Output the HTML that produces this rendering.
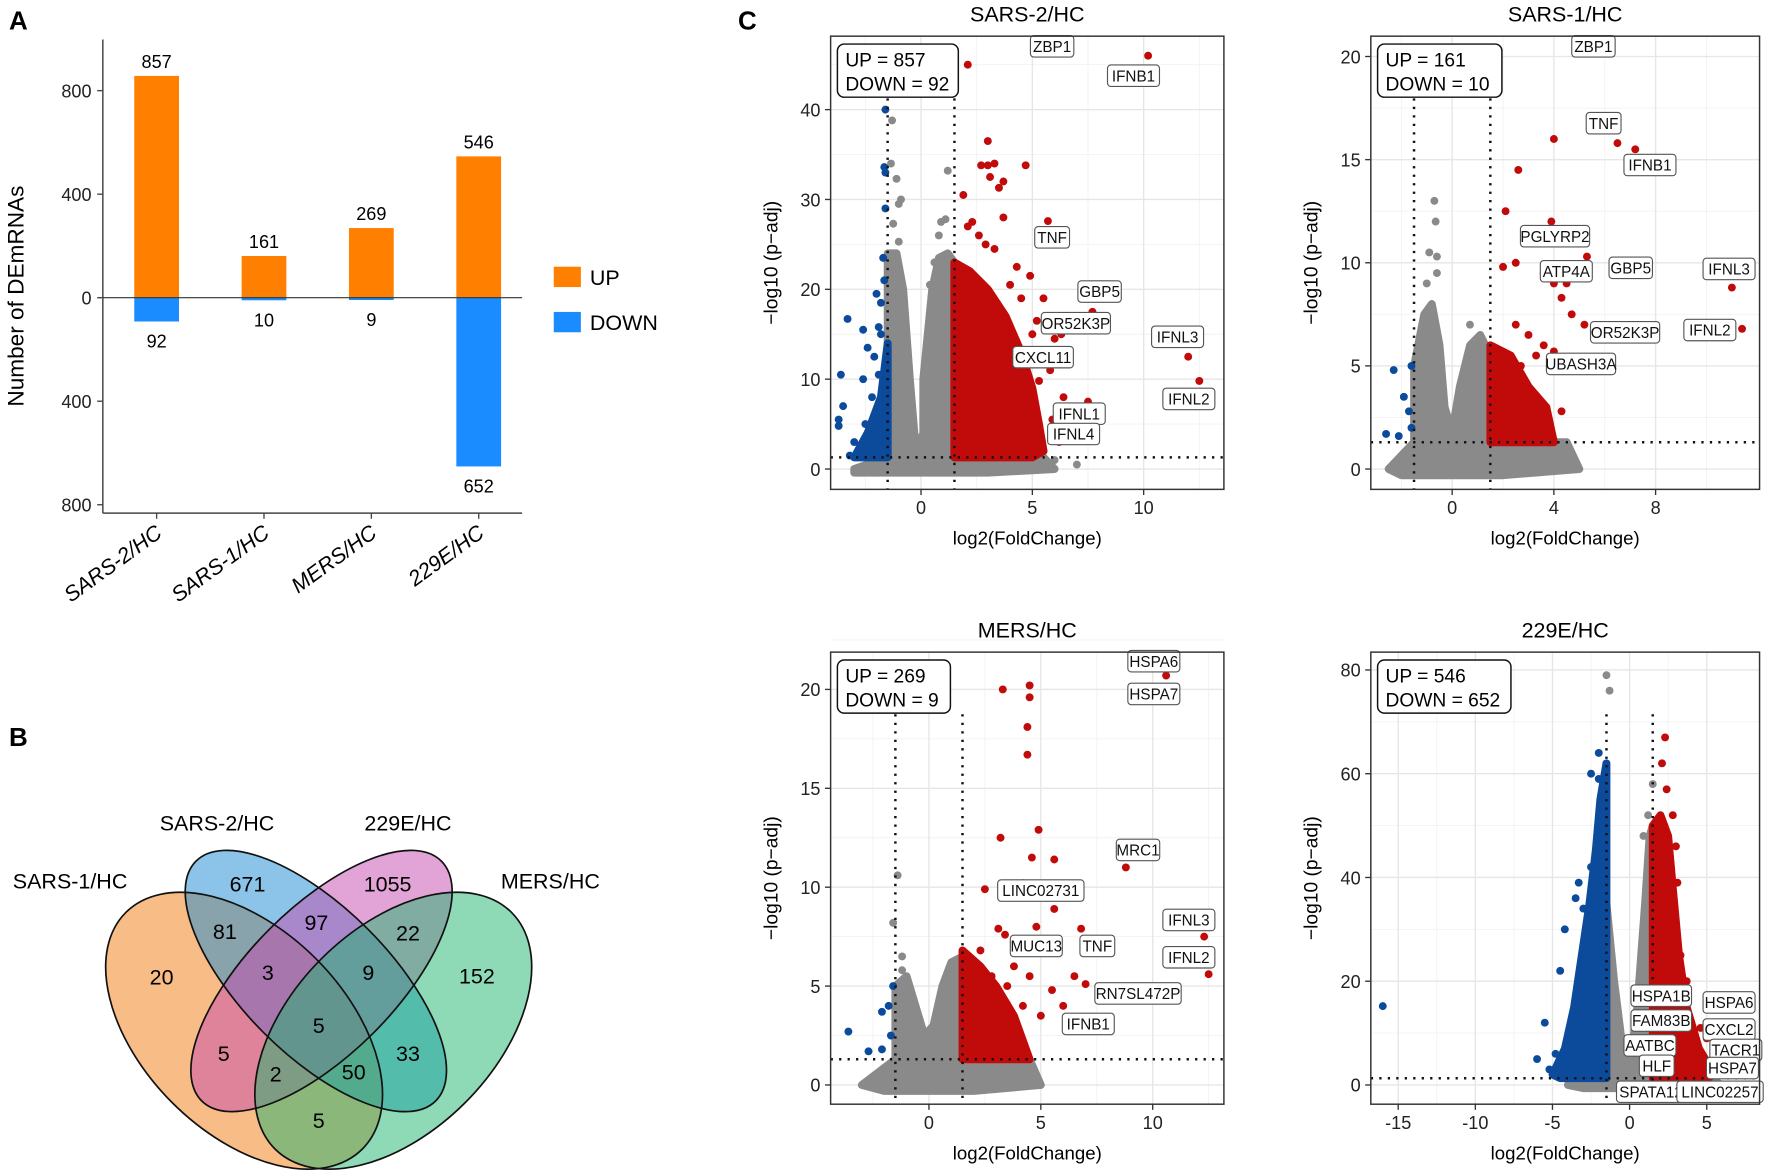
<!DOCTYPE html>
<html><head><meta charset="utf-8"><style>
html,body{margin:0;padding:0;background:#fff;}
svg{display:block;font-family:"Liberation Sans",Arial,sans-serif;}
</style></head><body>
<svg id="fig" width="1772" height="1172" viewBox="0 0 1568 1037" preserveAspectRatio="none" xmlns="http://www.w3.org/2000/svg"></svg>
<script>
// ---------- Panel A data ----------
const barCats = ["SARS-2/HC","SARS-1/HC","MERS/HC","229E/HC"];
const upVals = [857,161,269,546];
const downVals = [92,10,9,652];
const barTicks = [800,400,0,-400,-800];
const barTickLabels = ["800","400","0","400","800"];

// ---------- Venn data ----------
const vennSets = ["SARS-1/HC","SARS-2/HC","229E/HC","MERS/HC"];
const vennCounts = [671,1055,81,97,22,20,3,9,152,5,5,33,2,50,5];

// ---------- Volcano data ([log2FC, -log10 padj]) ----------
const s2Stats = [857,92];
const s2GreyEnv = [[-3,0],[-1.5,1.3],[-1.5,24],[-1.1,24],[-0.8,20],[-0.5,10],[-0.3,4],[-0.1,2],[0.1,4],[0.1,10],[0.5,20],[0.8,23.5],[1.2,24],[1.5,23],[1.5,1.3],[5.5,1.3],[6,0],[3,-0.4],[-3,-0.4]];
const s2GreyPts = [[-1.3,38.8],[-1.35,34],[-1.1,32.3],[-0.9,30],[-1.0,29.5],[-1.25,27.3],[1.2,33.2],[0.8,26],[1.1,27.8],[0.9,27.5],[0.6,23],[0.9,22.9],[-1.0,25.3],[6,1],[7,0.5],[0.6,21],[0.4,20.5]];
const s2RedEnv = [[1.5,1.3],[1.5,23],[2.2,22],[3,20],[3.8,17],[4.5,13],[5,9],[5.3,5],[5.5,2],[5,1.3]];
const s2RedPts = [[1.9,30.5],[2.1,27],[2.3,27.5],[3,36.5],[2.7,33.8],[3.0,33.8],[3.3,34],[3.1,32.5],[3.7,32],[3.5,31.3],[4.7,33.8],[3.7,28],[5.7,27.6],[4.3,22.5],[4.9,21.5],[5.5,19],[4,20.5],[6,14.5],[6.3,15],[5,15],[6.8,6.8],[7.5,7.5],[12,12.5],[12.5,9.8],[10.2,46],[2.1,45],[4.6,10],[5.3,9.8],[6.2,3],[7.2,4],[7.7,17.5],[5.8,11],[6.4,8],[5.9,5.5],[6.5,12],[2.9,25],[2.6,26],[3.3,24.5],[4.5,19],[5.2,16.5]];
const s2BlueEnv = [[-1.5,1.3],[-1.5,14],[-1.8,8],[-2.4,4],[-3,1.3]];
const s2BluePts = [[-1.6,40],[-1.65,33.6],[-1.6,33],[-1.6,29],[-1.7,23.5],[-1.65,21],[-2,19.5],[-1.8,18.5],[-3.3,16.7],[-2.6,15.5],[-1.9,15.8],[-1.8,15],[-2.4,13.5],[-2.1,12.5],[-3.6,10.5],[-2.6,10],[-1.9,10.5],[-2.2,8],[-3.5,7],[-3.7,5.5],[-3.7,4.8],[-2.5,5],[-2,6],[-3,3],[-2.2,2],[-1.8,3],[-3.2,1.5],[-2.6,1.5]];

const s1Stats = [161,10];
const s1GreyEnv = [[-2.5,0],[-1.5,1.3],[-1.5,5],[-1.1,7.5],[-0.8,8],[-0.5,6],[-0.3,3],[0,1.8],[0.3,4],[0.7,6],[1.1,6.5],[1.5,5.5],[1.5,1.3],[4.5,1.3],[5,0],[2,-0.3],[-2,-0.3]];
const s1GreyPts = [[-0.7,13],[-0.65,12],[-0.9,10.5],[-0.6,10.3],[-1.0,9],[-0.6,9.5],[0.7,7]];
const s1RedEnv = [[1.5,1.3],[1.5,6],[2.3,5.5],[3,4],[3.7,3],[4,1.3]];
const s1RedPts = [[4.0,16],[6.5,15.8],[7.2,15.5],[2.6,14.5],[2.1,12.5],[3.9,12],[4.2,11],[2.5,10],[2.0,9.8],[3.6,9.5],[4.0,9],[4.5,9],[5.3,10.3],[4.3,8.3],[4.7,7.5],[5.2,7],[11,8.8],[11.4,6.8],[3.6,6],[4,5.7],[3.0,6.5],[2.5,7],[2.7,5],[3.3,5.5],[3.7,3],[4.3,2.8],[2.2,3.5],[2.9,4.2]];
const s1BluePts = [[-1.6,5],[-2.3,4.8],[-1.9,3.5],[-1.7,2.8],[-2.6,1.7],[-2.1,1.6],[-1.6,2]];

const meStats = [269,9];
const meGreyEnv = [[-3,0],[-1.5,1.3],[-1.5,5],[-1.0,5.5],[-0.6,4],[-0.2,2.5],[0.2,3],[0.6,5],[1.0,6.2],[1.5,6.5],[1.5,1.3],[4.5,1.3],[5,0],[2,-0.3],[-2,-0.3]];
const meGreyPts = [[-1.4,10.6],[-1.6,8.2],[-1.2,6.5],[1.0,5.5],[-1.2,5.8]];
const meRedEnv = [[1.5,1.3],[1.5,6.8],[2.3,6],[3,5],[3.8,3.5],[4.5,1.3]];
const meRedPts = [[3.3,20],[4.5,20.2],[4.5,19.6],[4.4,18.1],[4.4,16.7],[10.6,20.7],[3.2,12.5],[4.9,12.9],[4.6,11.5],[5.6,11.4],[8.8,11],[2.5,9.9],[4.2,10.2],[5.6,8.9],[6.8,7.9],[4.8,8],[3.1,7.9],[3.4,7.6],[12.3,7.5],[12.5,5.6],[7,5.1],[3.8,6],[4.5,5.5],[2.3,6.8],[2.8,5.5],[3.5,5],[4.2,4],[5.5,4.8],[6,4],[6.5,5.5],[5,3.5],[3,3],[2.5,2],[4,2]];
const meBluePts = [[-1.6,5],[-1.8,4],[-2.1,3.7],[-3.6,2.7],[-2.7,1.7],[-2.1,1.8],[-1.7,2.5]];

const e2Stats = [546,652];
const e2GreyEnv = [[-4,0],[-1.5,1.3],[-1.5,35],[-1.0,20],[-0.5,8],[0,3],[0.5,15],[1.0,35],[1.3,48],[1.5,50],[1.5,1.3],[5,1.3],[6,0],[0,-0.6],[-3,-0.6]];
const e2GreyPts = [[-1.5,79],[-1.3,76],[1.2,52],[0.9,48],[1.5,58]];
const e2BlueEnv = [[-1.5,1.3],[-1.5,62],[-1.9,55],[-2.2,45],[-2.6,35],[-3.1,25],[-3.6,15],[-4.2,7],[-5,2],[-4.5,1.3]];
const e2BluePts = [[-16,15.2],[-2.0,64],[-2.5,60],[-2.0,59],[-1.8,50],[-3.3,39],[-3.5,36],[-2.5,42],[-4.2,30],[-4.5,22],[-5.5,12],[-6,5],[-5.2,3],[-4.8,6],[-3,34]];
const e2RedEnv = [[1.5,1.3],[1.5,50],[2,52],[2.5,48],[2.8,38],[3.2,25],[3.7,15],[4.5,7],[5.5,2],[5,1.3]];
const e2RedPts = [[2.3,67],[2.4,57],[2.8,52],[2.1,62],[2.6,44],[3,46],[3.1,39],[3.3,25],[3.7,20],[4,12],[4.6,11],[5,9],[3.5,5],[4.2,3],[4.8,2]];

const NS = "http://www.w3.org/2000/svg";
const svg = document.getElementById('fig');
function el(tag, attrs, parent){
  const e = document.createElementNS(NS, tag);
  for (const k in attrs) e.setAttribute(k, attrs[k]);
  (parent||svg).appendChild(e);
  return e;
}
function txt(s, attrs, parent){ const t = el('text', attrs, parent); t.textContent = s; return t; }

const RED="#c10a0a", BLUE="#0c4a9c", GREY="#8a8a8a";

// ---------- panel letters ----------
[["A",8,26],["B",8,660],["C",653,26]].forEach(l=>{
  const t = txt(l[0], {x:l[1], y:l[2], 'font-size':23, 'font-weight':'bold'});
  
  
});

// ---------- Panel A: bar chart ----------
(function(){
  const g = el('g', {});
  
  
  const y0 = 263.4, k = 91.6/400;
  const yS = v => y0 - v*k;
  const xS = i => 138.6 + i*95;
  const axL = 91, axR = 462, axB = 454;
  const ya = el('line', {x1:axL, y1:35, x2:axL, y2:axB, stroke:'#444', 'stroke-width':1.3}, g);
  
  
  const xa = el('line', {x1:axL, y1:axB, x2:axR, y2:axB, stroke:'#444', 'stroke-width':1.3}, g);
  
  
  barTicks.forEach((v,i)=>{
    el('line', {x1:axL-5, y1:yS(v), x2:axL, y2:yS(v), stroke:'#444', 'stroke-width':1.2}, g);
    const t = txt(barTickLabels[i], {x:axL-10, y:yS(v)+6, 'font-size':16, 'text-anchor':'end', fill:'#222'}, g);
    
    
  });
  const yt = txt("Number of DEmRNAs", {x:0, y:0, 'font-size':20, 'text-anchor':'middle', transform:'translate(21,262) rotate(-90)'}, g);
  
  
  barCats.forEach((c,i)=>{
    const x = xS(i);
    const bu = el('rect', {x:x-19.8, y:yS(upVals[i]), width:39.6, height:upVals[i]*k, fill:'#ff8000'}, g);
    
    
    const bd = el('rect', {x:x-19.8, y:y0, width:39.6, height:Math.max(downVals[i]*k,1.5), fill:'#1a8cff'}, g);
    
    
    const lu = txt(String(upVals[i]), {x:x, y:yS(upVals[i])-7, 'font-size':16, 'text-anchor':'middle'}, g);
    
    
    const ld = txt(String(downVals[i]), {x:x, y:yS(-downVals[i])+23, 'font-size':16, 'text-anchor':'middle'}, g);
    
    
    el('line', {x1:x, y1:axB, x2:x, y2:axB+5, stroke:'#444', 'stroke-width':1.2}, g);
    const xl = txt(c, {x:0, y:0, 'font-size':19, 'font-style':'italic', 'text-anchor':'end', transform:'translate('+(x+6)+',474) rotate(-36)'}, g);
    
    
  });
  const zl = el('line', {x1:axL, y1:y0, x2:axR, y2:y0, stroke:'#333', 'stroke-width':1}, g);
  
  
  const lg = el('g', {}, g);
  
  
  el('rect', {x:490, y:236, width:24, height:18, fill:'#ff8000'}, lg);
  const l1 = txt("UP", {x:522, y:252, 'font-size':19}, lg);
  
  
  el('rect', {x:490, y:276, width:24, height:18, fill:'#1a8cff'}, lg);
  const l2 = txt("DOWN", {x:522, y:292, 'font-size':19}, lg);
  
  
})();

// ---------- Panel B: Venn ----------
(function(){
  const g = el('g', {});
  
  
  const ells = [
    {cx:216, cy:912, rx:148, ry:90, rot:45, fill:'#f1790d'},
    {cx:279.5, cy:868, rx:150, ry:65, rot:45, fill:'#1789d1'},
    {cx:284.5, cy:868, rx:150, ry:65, rot:-45, fill:'#c549ad'},
    {cx:348, cy:912, rx:148, ry:90, rot:-45, fill:'#1db36d'}
  ];
  ells.forEach((e,i)=>{
    const s = el('ellipse', {cx:e.cx, cy:e.cy, rx:e.rx, ry:e.ry, fill:e.fill, 'fill-opacity':0.5, transform:'rotate('+e.rot+' '+e.cx+' '+e.cy+')'}, g);
    
    
  });
  ells.forEach(e=>{
    el('ellipse', {cx:e.cx, cy:e.cy, rx:e.rx, ry:e.ry, fill:'none', stroke:'#111', 'stroke-width':1.5, transform:'rotate('+e.rot+' '+e.cx+' '+e.cy+')'}, g);
  });
  const setPos = [[62,786],[192,735],[361,735],[487,786]];
  vennSets.forEach((s,i)=>{
    const t = txt(s, {x:setPos[i][0], y:setPos[i][1], 'font-size':19, 'text-anchor':'middle'}, g);
    
    
  });
  const cntPos = [[219,782],[343,782],[199,824],[280,816],[361,825],[143,864],[237,860],[326,860],[422,863],[282,907],[198,932],[361,932],[244,950],[313,948],[282,991]];
  vennCounts.forEach((c,i)=>{
    const t = txt(String(c), {x:cntPos[i][0], y:cntPos[i][1]+7, 'font-size':19, 'text-anchor':'middle'}, g);
    
    
  });
})();

// ---------- Panel C: volcano plots ----------
function volcano(cfg){
  const g = el('g', {});
  
  
  const sx = v => cfg.x0 + v*cfg.xs, sy = v => cfg.y0 - v*cfg.ys;
  const clip = el('clipPath', {id:'clip-'+cfg.name}, g);
  el('rect', {x:cfg.L, y:cfg.T, width:cfg.R-cfg.L, height:cfg.B-cfg.T}, clip);
  el('rect', {x:cfg.L, y:cfg.T, width:cfg.R-cfg.L, height:cfg.B-cfg.T, fill:'#fff'}, g);
  cfg.minX.forEach(v=>el('line',{x1:sx(v),y1:cfg.T,x2:sx(v),y2:cfg.B,stroke:'#f2f2f2','stroke-width':0.8},g));
  cfg.minY.forEach(v=>el('line',{x1:cfg.L,y1:sy(v),x2:cfg.R,y2:sy(v),stroke:'#f2f2f2','stroke-width':0.8},g));
  cfg.tx.forEach(v=>el('line',{x1:sx(v),y1:cfg.T,x2:sx(v),y2:cfg.B,stroke:'#e6e6e6','stroke-width':1.2},g));
  cfg.ty.forEach(v=>el('line',{x1:cfg.L,y1:sy(v),x2:cfg.R,y2:sy(v),stroke:'#e6e6e6','stroke-width':1.2},g));
  const pg = el('g', {'clip-path':'url(#clip-'+cfg.name+')'}, g);
  function env(arr, col, nm){
    if(!arr) return;
    const d = arr.map((p,i)=>(i?'L':'M')+sx(p[0]).toFixed(1)+' '+sy(p[1]).toFixed(1)).join(' ')+' Z';
    const p = el('path', {d:d, fill:col, stroke:col, 'stroke-width':7, 'stroke-linejoin':'round'}, pg);
    
    
  }
  function pts(arr, col, nm){
    if(!arr) return;
    arr.forEach(p=>{
      const c = el('circle', {cx:sx(p[0]), cy:sy(p[1]), r:3.5, fill:col}, pg);
      
      
    });
  }
  env(cfg.greyEnv, GREY, 'ns-gene-cloud');
  pts(cfg.greyPts, GREY, 'ns-gene-point');
  env(cfg.blueEnv, BLUE, 'down-gene-cloud');
  pts(cfg.bluePts, BLUE, 'down-gene-point');
  env(cfg.redEnv, RED, 'up-gene-cloud');
  pts(cfg.redPts, RED, 'up-gene-point');
  [-1.5,1.5].forEach(v=>{
    const l = el('line',{x1:sx(v),y1:cfg.T+55,x2:sx(v),y2:cfg.B,stroke:'#111','stroke-width':2.2,'stroke-dasharray':'2 5.5'},pg);
    
    
  });
  const hl = el('line',{x1:cfg.L,y1:sy(1.3),x2:cfg.R,y2:sy(1.3),stroke:'#111','stroke-width':2.2,'stroke-dasharray':'2 5.5'},pg);
  
  
  cfg.labels.forEach(l=>{
    const w = l[0].length*7.6+8;
    const lg = el('g', {}, g);
    
    
    el('rect', {x:l[1]-w/2, y:l[2]-9.5, width:w, height:19, rx:3, fill:'#fff', stroke:'#555', 'stroke-width':1}, lg);
    txt(l[0], {x:l[1], y:l[2]+5, 'font-size':13.5, 'text-anchor':'middle', fill:'#111'}, lg);
  });
  el('rect', {x:cfg.L, y:cfg.T, width:cfg.R-cfg.L, height:cfg.B-cfg.T, fill:'none', stroke:'#333', 'stroke-width':1.3}, g);
  const ib = el('g', {}, g);
  
  
  el('rect', {x:cfg.L+6, y:cfg.T+7, width:cfg.boxW, height:47, rx:6, fill:'#fff', stroke:'#111', 'stroke-width':1.3}, ib);
  txt('UP = '+cfg.stats[0], {x:cfg.L+13, y:cfg.T+27, 'font-size':17}, ib);
  txt('DOWN = '+cfg.stats[1], {x:cfg.L+13, y:cfg.T+48, 'font-size':17}, ib);
  cfg.tx.forEach(v=>{
    el('line',{x1:sx(v),y1:cfg.B,x2:sx(v),y2:cfg.B+5,stroke:'#333','stroke-width':1.2},g);
    const t = txt(String(v), {x:sx(v), y:cfg.B+22, 'font-size':16, 'text-anchor':'middle', fill:'#222'}, g);
    
    
  });
  cfg.ty.forEach(v=>{
    el('line',{x1:cfg.L-5,y1:sy(v),x2:cfg.L,y2:sy(v),stroke:'#333','stroke-width':1.2},g);
    const t = txt(String(v), {x:cfg.L-9, y:sy(v)+6, 'font-size':16, 'text-anchor':'end', fill:'#222'}, g);
    
    
  });
  const xt = txt('log2(FoldChange)', {x:(cfg.L+cfg.R)/2, y:cfg.B+49, 'font-size':16.5, 'text-anchor':'middle'}, g);
  
  
  const yt = txt('\u2212log10 (p\u2212adj)', {x:0, y:0, 'font-size':17, 'text-anchor':'middle', transform:'translate('+(cfg.L-47)+','+((cfg.T+cfg.B)/2)+') rotate(-90)'}, g);
  
  
  const tt = txt(cfg.title, {x:(cfg.L+cfg.R)/2, y:cfg.T-13, 'font-size':19, 'text-anchor':'middle'}, g);
  
  
}

volcano({name:'volcano-sars2', title:'SARS-2/HC', L:735, R:1083, T:32, B:433, x0:815, xs:19.7, y0:415, ys:7.95,
  tx:[0,5,10], minX:[-2.5,2.5,7.5,12.5], ty:[0,10,20,30,40], minY:[5,15,25,35,45], boxW:107, stats:s2Stats,
  greyEnv:s2GreyEnv, greyPts:s2GreyPts, redEnv:s2RedEnv, redPts:s2RedPts, blueEnv:s2BlueEnv, bluePts:s2BluePts,
  labels:[["ZBP1",931,41],["IFNB1",1003,67],["TNF",931,210],["GBP5",973,258],["OR52K3P",952,286],["CXCL11",923,316],["IFNL3",1042,298],["IFNL2",1052,353],["IFNL1",955,366],["IFNL4",950,384]]});

volcano({name:'volcano-sars1', title:'SARS-1/HC', L:1213, R:1557, T:32, B:433, x0:1285, xs:22.5, y0:415, ys:18.25,
  tx:[0,4,8], minX:[-2,2,6,10], ty:[0,5,10,15,20], minY:[2.5,7.5,12.5,17.5], boxW:110, stats:s1Stats,
  greyEnv:s1GreyEnv, greyPts:s1GreyPts, redEnv:s1RedEnv, redPts:s1RedPts, bluePts:s1BluePts,
  labels:[["ZBP1",1410,41],["TNF",1419,109],["IFNB1",1460,146],["PGLYRP2",1376,209],["GBP5",1443,237],["ATP4A",1386,240],["IFNL3",1530,238],["OR52K3P",1438,294],["IFNL2",1513,292],["UBASH3A",1399,322]]});

volcano({name:'volcano-mers', title:'MERS/HC', L:735, R:1083, T:577, B:977, x0:822, xs:19.8, y0:960, ys:17.5,
  tx:[0,5,10], minX:[-2.5,2.5,7.5,12.5], ty:[0,5,10,15,20], minY:[2.5,7.5,12.5,17.5,22.5], boxW:100, stats:meStats,
  greyEnv:meGreyEnv, greyPts:meGreyPts, redEnv:meRedEnv, redPts:meRedPts, bluePts:meBluePts,
  labels:[["HSPA6",1021,585],["HSPA7",1021,614],["MRC1",1007,752],["LINC02731",921,788],["IFNL3",1052,814],["MUC13",917,837],["TNF",971,837],["IFNL2",1052,847],["RN7SL472P",1007,879],["IFNB1",963,906]]});

volcano({name:'volcano-229e', title:'229E/HC', L:1213, R:1557, T:577, B:977, x0:1442, xs:13.65, y0:960, ys:4.59,
  tx:[-15,-10,-5,0,5], minX:[-12.5,-7.5,-2.5,2.5], ty:[0,20,40,60,80], minY:[10,30,50,70], boxW:118, stats:e2Stats,
  greyEnv:e2GreyEnv, greyPts:e2GreyPts, redEnv:e2RedEnv, redPts:e2RedPts, blueEnv:e2BlueEnv, bluePts:e2BluePts,
  labels:[["HSPA1B",1470,881],["HSPA6",1530,887],["FAM83B",1470,903],["CXCL2",1530,911],["AATBC",1460,925],["TACR1",1536,929],["HLF",1466,943],["HSPA7",1533,945],["SPATA12",1461,966],["LINC02257",1522,966]]});
</script>
</body></html>
